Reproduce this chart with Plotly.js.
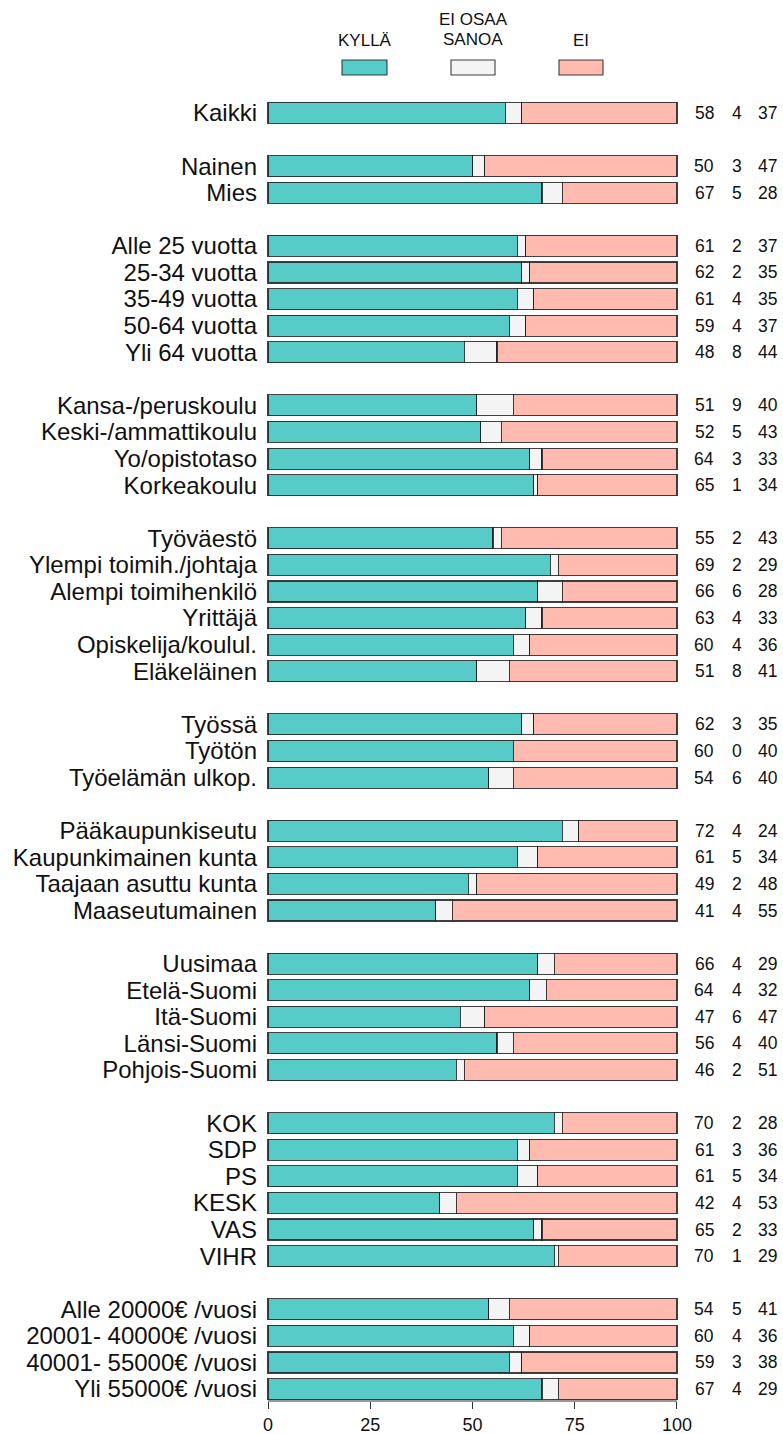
<!DOCTYPE html>
<html>
<head>
<meta charset="utf-8">
<script src="https://cdn.plot.ly/plotly-3.0.1.min.js"></script>
<style>
  html, body { margin: 0; padding: 0; background: #fff; }
  #chart { width: 783px; height: 1434px; }
</style>
</head>
<body>
<div id="chart"></div>
<script>
// ---- Data ----
const categories = [
  "Kaikki",
  "Nainen", "Mies",
  "Alle 25 vuotta", "25-34 vuotta", "35-49 vuotta", "50-64 vuotta", "Yli 64 vuotta",
  "Kansa-/peruskoulu", "Keski-/ammattikoulu", "Yo/opistotaso", "Korkeakoulu",
  "Työväestö", "Ylempi toimih./johtaja", "Alempi toimihenkilö", "Yrittäjä", "Opiskelija/koulul.", "Eläkeläinen",
  "Työssä", "Työtön", "Työelämän ulkop.",
  "Pääkaupunkiseutu", "Kaupunkimainen kunta", "Taajaan asuttu kunta", "Maaseutumainen",
  "Uusimaa", "Etelä-Suomi", "Itä-Suomi", "Länsi-Suomi", "Pohjois-Suomi",
  "KOK", "SDP", "PS", "KESK", "VAS", "VIHR",
  "Alle 20000€ /vuosi", "20001- 40000€ /vuosi", "40001- 55000€ /vuosi", "Yli 55000€ /vuosi"
];
const groupSizes = [1, 2, 5, 4, 6, 3, 4, 5, 6, 4];

// displayed percentages
const kylla = [58, 50, 67, 61, 62, 61, 59, 48, 51, 52, 64, 65, 55, 69, 66, 63, 60, 51, 62, 60, 54, 72, 61, 49, 41, 66, 64, 47, 56, 46, 70, 61, 61, 42, 65, 70, 54, 60, 59, 67];
const eos   = [ 4,  3,  5,  2,  2,  4,  4,  8,  9,  5,  3,  1,  2,  2,  6,  4,  4,  8,  3,  0,  6,  4,  5,  2,  4,  4,  4,  6,  4,  2,  2,  3,  5,  4,  2,  1,  5,  4,  3,  4];
const ei    = [37, 47, 28, 37, 35, 35, 37, 44, 40, 43, 33, 34, 43, 29, 28, 33, 36, 41, 35, 40, 40, 24, 34, 48, 55, 29, 32, 47, 40, 51, 28, 36, 34, 53, 33, 29, 41, 36, 38, 29];
// length of the EI bar segment (bars always reach 100)
const eiBar = [38, 47, 28, 37, 36, 35, 37, 44, 40, 43, 33, 34, 43, 29, 28, 33, 36, 41, 35, 40, 40, 24, 34, 49, 55, 30, 32, 47, 40, 52, 28, 36, 34, 54, 33, 29, 41, 36, 38, 29];

const seriesNames = ["KYLLÄ", "EI OSAA SANOA", "EI"];
const xTicks = [0, 25, 50, 75, 100];

// ---- Build slots (categories with spacer rows between groups) ----
const slots = [], xK = [], xE = [], xN = [];
let idx = 0;
groupSizes.forEach((n, g) => {
  for (let i = 0; i < n; i++, idx++) {
    slots.push(categories[idx]);
    xK.push(kylla[idx]); xE.push(eos[idx]); xN.push(eiBar[idx]);
  }
  if (g < groupSizes.length - 1) {
    slots.push("\u200B".repeat(g + 1));
    xK.push(null); xE.push(null); xN.push(null);
  }
});

const colors = ["rgb(86,203,199)", "rgb(244,244,244)", "rgb(255,187,175)"];
const lineStyle = { color: "rgba(30,30,30,0.85)", width: 1.1 };

const traces = [xK, xE, xN].map((xs, i) => ({
  type: "bar",
  orientation: "h",
  name: seriesNames[i],
  y: slots,
  x: xs,
  width: 0.79,
  marker: { color: colors[i], line: lineStyle },
  hoverinfo: "skip",
  showlegend: false
}));

// ---- Geometry helpers ----
const W = 783, H = 1434;
const M = { l: 266, r: 104, t: 97, b: 33 };
const PW = W - M.l - M.r, PH = H - M.t - M.b;
const px = x => (x - M.l) / PW;
const py = y => (H - M.b - y) / PH;

const font = "Liberation Sans, Arial, sans-serif";
const annotations = [];
const colPx = [704, 736.7, 767.5];
categories.forEach((c, i) => {
  [kylla[i], eos[i], ei[i]].forEach((v, j) => {
    annotations.push({
      x: px(colPx[j]), y: c, xref: "paper", yref: "y",
      text: String(v), showarrow: false,
      xanchor: "center", yanchor: "middle",
      font: { family: font, size: 17.5, color: "#111" }
    });
  });
});

// Legend (custom)
const legendBoxes = [[342, 387], [451, 495], [559, 603]];
const legendText = [
  { t: "KYLLÄ", x: 364.5, y: 40.5 },
  { t: "EI OSAA", x: 473, y: 20 },
  { t: "SANOA", x: 473, y: 39.5 },
  { t: "EI", x: 581, y: 40.5 }
];
legendText.forEach(o => annotations.push({
  x: px(o.x), y: py(o.y), xref: "paper", yref: "paper",
  text: o.t, showarrow: false, xanchor: "center", yanchor: "middle",
  font: { family: font, size: 17, color: "#111" }
}));

const shapes = legendBoxes.map((b, i) => ({
  type: "rect", xref: "paper", yref: "paper",
  x0: px(b[0]), x1: px(b[1]), y0: py(75), y1: py(60),
  fillcolor: colors[i], line: { color: "rgba(30,30,30,0.85)", width: 1.1 }
}));
// bottom axis line from 0 to 100
shapes.push({
  type: "line", xref: "x", yref: "paper",
  x0: 0, x1: 100, y0: 0, y1: 0,
  line: { color: "#333", width: 1 }
});

const layout = {
  width: W, height: H,
  margin: M,
  paper_bgcolor: "#fff", plot_bgcolor: "#fff",
  barmode: "stack",
  showlegend: false,
  xaxis: {
    range: [-0.5, 100.5],
    tickvals: xTicks, ticktext: xTicks.map(String),
    ticks: "outside", ticklen: 7, tickcolor: "#333", tickwidth: 1,
    showgrid: false, zeroline: false, showline: false,
    tickfont: { family: font, size: 18, color: "#111" },
    automargin: false, fixedrange: true
  },
  yaxis: {
    type: "category",
    categoryorder: "array", categoryarray: slots,
    tickmode: "array", tickvals: categories, ticktext: categories,
    range: [48.45, -0.6],
    ticks: "", showgrid: false, zeroline: false, showline: false,
    ticklabelstandoff: 8,
    tickfont: { family: font, size: 24, color: "#111" },
    automargin: false, fixedrange: true
  },
  annotations: annotations,
  shapes: shapes
};

Plotly.newPlot("chart", traces, layout, { displayModeBar: false, staticPlot: true });
</script>
</body>
</html>
